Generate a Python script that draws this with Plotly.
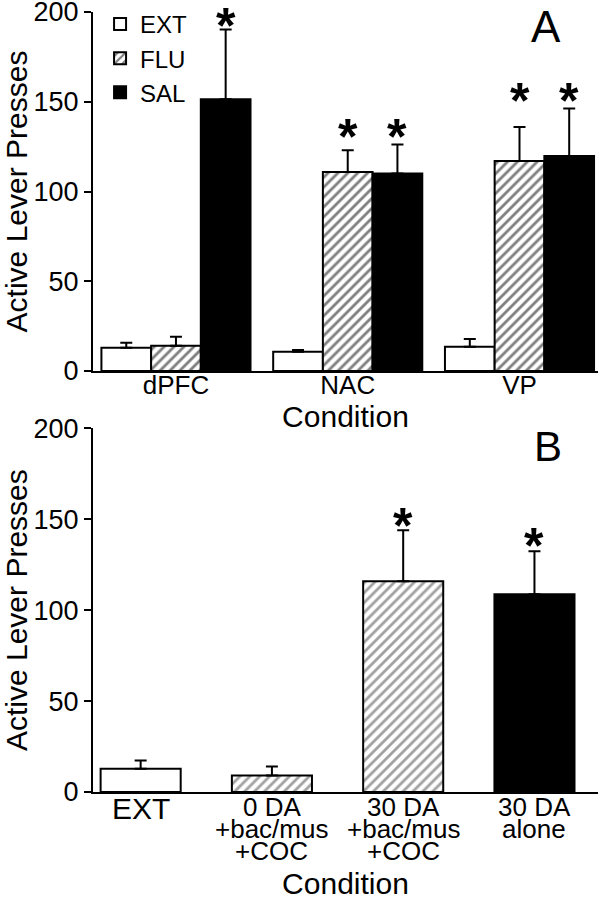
import plotly.graph_objects as go

FONT = "Liberation Sans, Arial, Helvetica, sans-serif"

# ---------------- data: panel A ----------------
regions = ["dPFC", "NAC", "VP"]
series_names = ["EXT", "FLU", "SAL"]
ext_mean = [13.0, 10.7, 13.5]
ext_sem = [2.7, 1.0, 4.3]
flu_mean = [14.1, 110.9, 117.0]
flu_sem = [5.0, 12.1, 19.0]
sal_mean = [151.4, 110.0, 119.8]
sal_sem = [38.8, 16.2, 26.4]
# level (bottom) of significance asterisks, None = no asterisk
ext_star = [None, None, None]
flu_star = [None, 130.0, 150.0]
sal_star = [191.5, 130.0, 150.0]

# ---------------- data: panel B ----------------
b_labels = ["EXT", "0 DA\n+bac/mus\n+COC", "30 DA\n+bac/mus\n+COC", "30 DA\nalone"]
b_mean = [12.8, 9.1, 115.9, 108.8]
b_sem = [4.5, 4.9, 28.1, 23.6]
b_star = [None, None, 145.6, 134.6]

y_ticks = [0, 50, 100, 150, 200]

# ---------------- styles ----------------
fills = {"EXT": "white", "FLU": "white", "SAL": "black"}
shapes = {"EXT": "", "FLU": "/", "SAL": ""}
b_fill = ["white", "white", "white", "black"]
b_shape = ["", "/", "/", ""]
BARGAP_A = 0.132
B_WIDTH = 0.61
PAT = dict(fgcolor="black", bgcolor="white", size=7, solidity=0.4)

fig = go.Figure()

means = [ext_mean, flu_mean, sal_mean]
sems = [ext_sem, flu_sem, sal_sem]
stars = [ext_star, flu_star, sal_star]

for name, m, s in zip(series_names, means, sems):
    fig.add_trace(go.Bar(
        x=regions, y=m, name=name,
        marker=dict(color=fills[name],
                    line=dict(color="black", width=2),
                    pattern=dict(shape=shapes[name], **PAT)),
        error_y=dict(type="data", array=s, arrayminus=[0] * len(s),
                     symmetric=False, color="black", thickness=2, width=6),
        xaxis="x", yaxis="y",
    ))

fig.add_trace(go.Bar(
    x=b_labels, y=b_mean, name="B", showlegend=False, width=B_WIDTH,
    marker=dict(color=b_fill, line=dict(color="black", width=2),
                pattern=dict(shape=b_shape, **PAT)),
    error_y=dict(type="data", array=b_sem, arrayminus=[0] * len(b_sem),
                 symmetric=False, color="black", thickness=2, width=6),
    xaxis="x2", yaxis="y2",
))

annotations = []
STAR_SIZE = 50
STAR_SHIFT = -29
# asterisks panel A
w = (1 - BARGAP_A) / 3
for k, st in enumerate(stars):
    for gi, lev in enumerate(st):
        if lev is None:
            continue
        annotations.append(dict(x=gi + (k - 1) * w, y=lev, xref="x", yref="y",
                                text="<b>*</b>", showarrow=False,
                                xanchor="center", yanchor="bottom",
                                yshift=STAR_SHIFT,
                                font=dict(size=STAR_SIZE, family=FONT, color="black")))
# asterisks panel B
for gi, lev in enumerate(b_star):
    if lev is None:
        continue
    annotations.append(dict(x=gi, y=lev, xref="x2", yref="y2",
                            text="<b>*</b>", showarrow=False,
                            xanchor="center", yanchor="bottom",
                            yshift=STAR_SHIFT,
                            font=dict(size=STAR_SIZE, family=FONT, color="black")))

# panel B category labels (tight line spacing)
for gi, lab in enumerate(b_labels):
    lines = lab.split("\n")
    if len(lines) == 1:
        annotations.append(dict(x=gi, y=0, xref="x2", yref="y2", text=lines[0],
                                showarrow=False, xanchor="center", yanchor="middle",
                                yshift=-17,
                                font=dict(size=30, family=FONT, color="black")))
    else:
        for li, t in enumerate(lines):
            annotations.append(dict(x=gi, y=0, xref="x2", yref="y2", text=t,
                                    showarrow=False, xanchor="center",
                                    yanchor="middle", yshift=-15 - 22 * li,
                                    font=dict(size=26, family=FONT, color="black")))

annotations.append(dict(x=0.897, y=0.981, xref="paper", yref="paper", text="A",
                        xanchor="center", yanchor="middle", showarrow=False,
                        font=dict(size=44, family=FONT, color="black")))
annotations.append(dict(x=0.901, y=0.443, xref="paper", yref="paper", text="B",
                        xanchor="center", yanchor="middle", showarrow=False,
                        font=dict(size=42, family=FONT, color="black")))

yax = dict(range=[0, 200], tickvals=y_ticks, ticks="outside", ticklen=7,
           tickwidth=2, tickcolor="black", showline=True, linewidth=2,
           linecolor="black", showgrid=False, zeroline=False, automargin=False,
           ticklabeloverflow="allow",
           tickfont=dict(size=27, family=FONT, color="black"),
           title=dict(text="Active Lever Presses", standoff=8,
                      font=dict(size=30, family=FONT, color="black")))

fig.update_layout(
    width=606, height=900,
    margin=dict(l=93, r=8, t=12, b=108, autoexpand=False),
    paper_bgcolor="white", plot_bgcolor="white",
    barmode="group", bargap=BARGAP_A, bargroupgap=0,
    font=dict(family=FONT, color="black"),
    xaxis=dict(domain=[0, 1], anchor="y", type="category", automargin=False,
               range=[-0.483, 2.457], showline=True, linewidth=2,
               linecolor="black", ticks="", showgrid=False,
               ticklabelstandoff=-10,
               tickfont=dict(size=26, family=FONT, color="black"),
               title=dict(text="Condition", standoff=2,
                          font=dict(size=30, family=FONT, color="black"))),
    yaxis=dict(domain=[0.5397, 1], anchor="x", **yax),
    xaxis2=dict(domain=[0, 1], anchor="y2", type="category", automargin=False,
                range=[-0.363, 3.484], showline=True, linewidth=2,
                linecolor="black", ticks="", showgrid=False,
                showticklabels=False,
                title=dict(text="Condition", standoff=82,
                           font=dict(size=30, family=FONT, color="black"))),
    yaxis2=dict(domain=[0, 0.4663], anchor="x2", **yax),
    legend=dict(x=0.014, y=1.013, xanchor="left", yanchor="top",
                bgcolor="rgba(0,0,0,0)", itemwidth=30,
                font=dict(size=24, family=FONT, color="black")),
    annotations=annotations,
    showlegend=True,
)

fig.write_html("out.html",
               config={"displayModeBar": False},
               post_script="document.body.style.margin='0';"
                           "document.body.style.padding='0';")
